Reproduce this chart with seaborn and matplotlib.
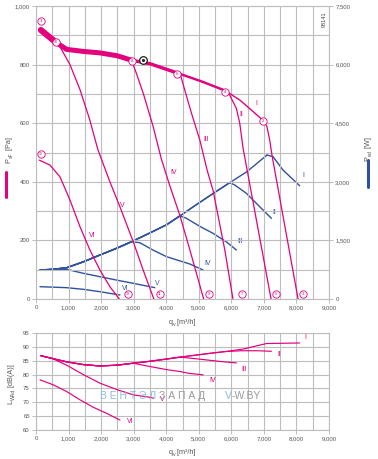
import matplotlib
matplotlib.use("Agg")
import matplotlib.pyplot as plt
import seaborn as sns
import pandas as pd
from matplotlib.ticker import FuncFormatter, MultipleLocator
from matplotlib.transforms import IdentityTransform

sns.set_theme(style="white")
plt.rcParams['font.family'] = ['Liberation Sans', 'DejaVu Sans']

PINK = "#E5007D"
BLUE = "#2F52A0"
GRID = "#BDBDBD"
TXT = "#555555"

curve_names = ["I", "II", "III", "IV", "V", "VI"]

# ---------------- pressure (Pa) ----------------
env_q = [150, 400, 615, 940, 1450, 1963, 2500, 2935, 3500, 3900, 4430, 5100, 5815, 6260, 6666, 7000]
env_p = [918, 895, 876, 852, 845, 840, 830, 815, 803, 788, 768, 742, 711, 679, 640, 607]
branch_q = {"I": 7000, "II": 5815, "III": 4430, "IV": 2935, "V": 615}

drop_q = {
    "I": [7000, 7095, 7178, 7250, 8050],
    "II": [5815, 5950, 6156, 6258, 6360, 7220],
    "III": [4430, 4570, 4776, 5031, 5256, 5440, 5800, 6050],
    "IV": [2935, 3100, 3300, 3600, 3850, 4100, 4420, 4720, 5150],
    "V": [615, 740, 1043, 1350, 1650, 1900, 2270, 2577, 2985, 3291, 3620],
    "VI": [100, 429, 736, 1043, 1350, 1656, 1963, 2270, 2560],
}
drop_p = {
    "I": [607, 588, 543, 490, 0],
    "II": [711, 696, 650, 600, 515, 0],
    "III": [768, 713, 634, 543, 440, 370, 167, 0],
    "IV": [815, 765, 700, 588, 478, 390, 285, 170, 0],
    "V": [876, 860, 800, 715, 612, 510, 400, 315, 196, 99, 0],
    "VI": [474, 457, 417, 338, 247, 167, 99, 42, 0],
}
p_label_q = [6770, 6290, 5235, 4213, 2660, 1739]
p_label_p = [668, 631, 545, 432, 318, 218]

# circled operating points
pt_num = ["1", "2", "3", "4", "5", "6", "7", "8", "9", "10", "11", "12", "13"]
pt_q = [154, 6972, 8200, 5800, 7383, 4346, 6329, 2935, 5307, 615, 3804, 154, 2813]
pt_p = [949, 607, 16, 708, 16, 768, 16, 812, 16, 876, 16, 495, 16]
nominal_q = [3280]
nominal_p = [816]

# ---------------- power (W) ----------------
envw_q = [123, 500, 940, 1450, 1963, 2476, 2935, 3497, 4010, 4417, 4900, 5439, 5950, 6463, 6800, 7095]
envw_w = [742, 758, 800, 950, 1126, 1298, 1467, 1690, 1900, 2125, 2400, 2700, 2977, 3250, 3480, 3686]
peak_q = {"I": 7095, "II": 5950, "III": 4417, "IV": 2935}
wdrop_q = {
    "I": [7095, 7280, 7586, 8098],
    "II": [5950, 6105, 6463, 6871, 7230],
    "III": [4417, 4600, 5031, 5439, 5850, 6156],
    "IV": [2935, 3190, 3600, 4010, 4724, 5132],
    "V": [123, 500, 940, 1451, 1963, 2500, 2985, 3650],
    "VI": [123, 940, 1451, 1963, 2577],
}
wdrop_w = {
    "I": [3686, 3643, 3302, 2900],
    "II": [2977, 2918, 2705, 2363, 2065],
    "III": [2125, 2075, 1860, 1680, 1460, 1254],
    "IV": [1467, 1441, 1250, 1083, 896, 742],
    "V": [742, 762, 760, 658, 571, 480, 402, 290],
    "VI": [315, 290, 248, 187, 102],
}
w_label_q = [8190, 7260, 6175, 5184, 3650, 2630]
w_label_w = [3174, 2220, 1467, 914, 402, 256]

# ---------------- noise dB(A) ----------------
envn_q = [150, 500, 940, 1450, 1963, 2500, 2985, 3500, 4010, 4430, 5439, 5815, 6360, 7080, 8098]
envn_db = [86.8, 85.8, 84.6, 83.6, 83.1, 83.4, 84.1, 84.8, 85.6, 86.3, 87.8, 88.3, 89.2, 91.2, 91.4]
n_branch_q = {"I": 8098, "II": 5815, "III": 4430, "IV": 2985, "V": 500}
ndrop_q = {
    "II": [5815, 6300, 6800, 7230],
    "III": [4430, 5000, 5600, 6156],
    "IV": [2985, 3500, 4010, 4417, 4724, 5132],
    "V": [500, 940, 1450, 1963, 2500, 2985, 3497, 3610],
    "VI": [123, 530, 940, 1350, 1760, 2170, 2577],
}
ndrop_db = {
    "II": [88.3, 88.6, 88.6, 88.4],
    "III": [86.3, 85.6, 84.8, 84.2],
    "IV": [84.1, 82.9, 81.8, 81.1, 80.4, 79.9],
    "V": [85.8, 83.4, 80.0, 76.9, 74.5, 72.7, 71.8, 71.5],
    "VI": [78.1, 76.3, 73.9, 70.9, 68.2, 66.0, 63.6],
}
n_label_q = [8250, 7414, 6308, 5322, 3800, 2782]
n_label_db = [93.2, 87.4, 82.0, 77.7, 71.0, 63.0]

# ---------------- figure ----------------
W, H = 378, 459
fig = plt.figure(figsize=(W / 100, H / 100), dpi=100)
renderer = fig.canvas.get_renderer()


def rect(x0, y0, x1, y1):
    return [x0 / W, 1 - y1 / H, (x1 - x0) / W, (y1 - y0) / H]


ax = fig.add_axes(rect(36, 6, 329, 299))
axw = ax.twinx()
axn = fig.add_axes(rect(36, 333, 329, 430))

fmt = FuncFormatter(lambda v, _: f"{int(round(v)):,}")


def style(a, xmaj, xmin, ymaj, ymin, xlim, ylim):
    a.set_xlim(*xlim)
    a.set_ylim(*ylim)
    a.xaxis.set_major_locator(MultipleLocator(xmaj))
    a.xaxis.set_minor_locator(MultipleLocator(xmin))
    a.yaxis.set_major_locator(MultipleLocator(ymaj))
    a.yaxis.set_minor_locator(MultipleLocator(ymin))
    a.grid(True, which="both", color=GRID, lw=0.8)
    a.set_axisbelow(True)
    for s in a.spines.values():
        s.set_color(GRID)
        s.set_linewidth(0.8)
    a.tick_params(which="major", length=3, width=0.7, color=GRID, labelsize=4.3,
                  labelcolor=TXT, pad=1.5, bottom=True, left=True)
    a.tick_params(which="minor", length=0)
    a.xaxis.set_major_formatter(fmt)
    a.yaxis.set_major_formatter(fmt)
    a.set_xlabel("")
    a.set_ylabel("")


style(ax, 1000, 500, 200, 100, (0, 9000), (0, 1000))
axw.set_ylim(0, 7500)
axw.yaxis.set_major_locator(MultipleLocator(1500))
axw.yaxis.set_major_formatter(fmt)
axw.tick_params(axis="y", length=3, width=0.7, color=GRID, labelsize=4.3,
                labelcolor=TXT, pad=1.5, right=True)
for s in axw.spines.values():
    s.set_visible(False)
axw.grid(False)
axw.set_ylabel("")
style(axn, 1000, 500, 5, 5, (0, 9000), (60, 95))


def line(a, xs, ys, color, lw, z=3):
    df = pd.DataFrame({"q": xs, "v": ys})
    sns.lineplot(data=df, x="q", y="v", ax=a, color=color, lw=lw, sort=False,
                 estimator=None, zorder=z, legend=False)
    a.set_xlabel("")
    a.set_ylabel("")


# pressure curves
env_widths = {"I": 1.0, "II": 1.7, "III": 2.4, "IV": 3.6, "V": 4.4}
for name in ["V", "IV", "III", "II", "I"]:
    qs = [q for q in env_q if q <= branch_q[name]]
    ps = env_p[:len(qs)]
    line(ax, qs, ps, PINK, env_widths[name], z=4)
for name in curve_names:
    line(ax, drop_q[name], drop_p[name], PINK, 0.9, z=4)
for n, q, p in zip(curve_names, p_label_q, p_label_p):
    ax.text(q, p, n, color=PINK, fontsize=5, ha="center", va="center", zorder=6)

# power curves
for name in ["I", "II", "III", "IV"]:
    qs = [q for q in envw_q if q <= peak_q[name]]
    ws = envw_w[:len(qs)]
    line(axw, qs, ws, BLUE, 1.0, z=3)
for name in curve_names:
    line(axw, wdrop_q[name], wdrop_w[name], BLUE, 1.0, z=3)
for n, q, w in zip(curve_names, w_label_q, w_label_w):
    axw.text(q, w, n, color=BLUE, fontsize=5, ha="left", va="center", zorder=6)

# circled points
sns.scatterplot(x=pt_q, y=pt_p, ax=ax, s=28, facecolor="white", edgecolor=PINK,
                linewidth=0.6, zorder=7, legend=False)
for n, q, p in zip(pt_num, pt_q, pt_p):
    ax.text(q, p, n, color=PINK, fontsize=2.6 if len(n) > 1 else 3.2,
            ha="center", va="center", zorder=8)
sns.scatterplot(x=nominal_q, y=nominal_p, ax=ax, s=30, facecolor="white",
                edgecolor="#222222", linewidth=0.9, zorder=7, legend=False)
sns.scatterplot(x=nominal_q, y=nominal_p, ax=ax, s=5, color="#222222",
                zorder=8, legend=False, linewidth=0)
ax.set_zorder(axw.get_zorder() + 1)
ax.patch.set_visible(False)
ax.text(8850, 980, "98141", rotation=90, fontsize=4, color="#444444",
        ha="center", va="top")

# noise curves
for name in ["I", "II", "III", "IV", "V"]:
    qs = [q for q in envn_q if q <= n_branch_q[name]]
    ds = envn_db[:len(qs)]
    line(axn, qs, ds, PINK, 0.85)
for name in ["II", "III", "IV", "V", "VI"]:
    line(axn, ndrop_q[name], ndrop_db[name], PINK, 0.85)
for n, q, d in zip(curve_names, n_label_q, n_label_db):
    axn.text(q, d, n, color=PINK, fontsize=5, ha="left", va="center", zorder=6)


def text_width(s, f):
    t = fig.text(0, 0, s.replace(" ", "\u00a0"), fontsize=f)
    w = t.get_window_extent(renderer).width
    t.remove()
    return w


# axis titles built from plain text pieces (main + subscript)
def rich(xc, yc, parts, rot=0, fs=5.2, color=TXT):
    sizes = [fs if not sub else fs * 0.72 for _, sub in parts]
    widths = [text_width(s, f) for (s, _), f in zip(parts, sizes)]
    total = sum(widths)
    X, Y = xc, H - yc
    cap = 0.72 * fs * 100 / 72
    pos = -total / 2
    for (s, sub), f, w in zip(parts, sizes, widths):
        drop = cap / 2 + (0.3 * fs * 100 / 72 if sub else 0)
        if rot == 0:
            px, py = X + pos, Y - drop
        else:
            px, py = X + drop, Y + pos
        fig.text(px, py, s.replace(" ", "\u00a0"), fontsize=f, color=color,
                 rotation=rot, rotation_mode="anchor", ha="left", va="baseline",
                 transform=IdentityTransform())
        pos += w


rich(8, 150, [("P", False), ("sF", True), (" [Pa]", False)], rot=90)
fig.add_artist(plt.Line2D([6 / W, 6 / W], [1 - 172 / H, 1 - 197 / H], color=PINK, lw=2.2))
rich(367, 149, [("P", False), ("ed", True), (" [W]", False)], rot=90)
fig.add_artist(plt.Line2D([368 / W, 368 / W], [1 - 160 / H, 1 - 187 / H], color=BLUE, lw=2.2))
rich(182, 321, [("q", False), ("v", True), (" [m³/h]", False)])
rich(182, 451, [("q", False), ("v", True), (" [m³/h]", False)])
rich(10, 384, [("L", False), ("WAd", True), (" [dB(A)]", False)], rot=90)

# watermark (pieces laid out one after another)
wm_parts = [("В Е Н Т Э Л", "#8DBCE3", 0), ("З А П А Д", "#9A9A9A", 2.5),
            ("V", "#8DBCE3", 20), ("-W.BY", "#9A9A9A", 0)]
wx = 100
for s, c, gap in wm_parts:
    wx += gap
    fig.text(wx, H - 399, s.replace(" ", "\u00a0"), fontsize=7.5, color=c,
             ha="left", va="baseline", transform=IdentityTransform())
    wx += text_width(s, 7.5)

fig.savefig("out.png", dpi=100, facecolor="white")
